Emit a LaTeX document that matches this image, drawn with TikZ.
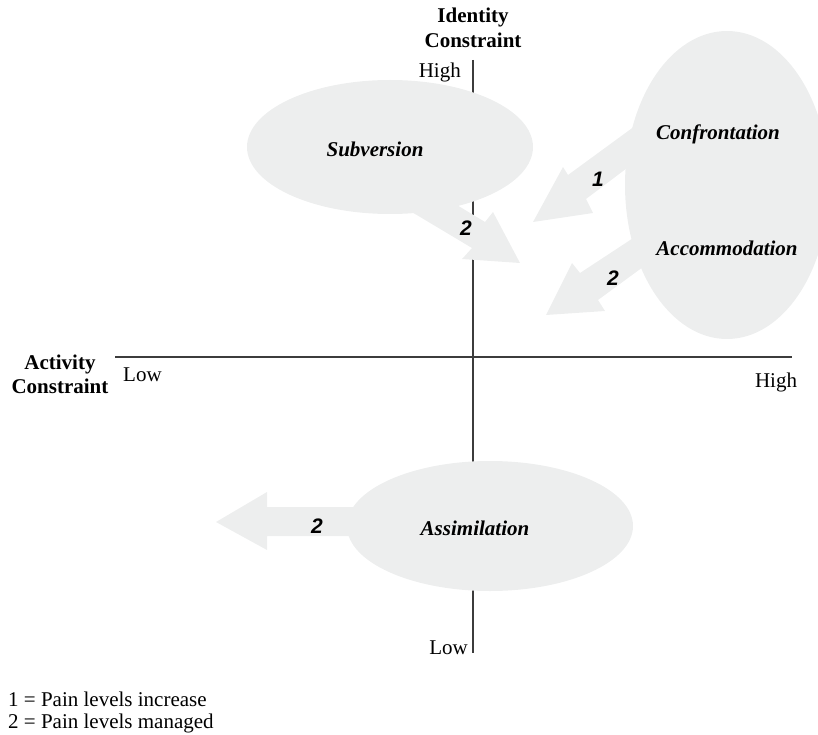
\documentclass[tikz,border=0pt]{standalone}
\usepackage{fontspec}
\setmainfont{Liberation Serif}
\newfontfamily\numfont{Liberation Sans}
\definecolor{blobgray}{RGB}{237,238,238}
\definecolor{axisgray}{RGB}{60,60,60}
\tikzset{
  axisline/.style={draw=axisgray, line width=1.2pt},
  blob/.style={fill=blobgray, draw=none},
  lbl/.style={font=\fontsize{21}{25}\selectfont\bfseries\itshape, inner sep=0pt, anchor=base},
  num/.style={font=\fontsize{21}{25}\selectfont\numfont\bfseries\itshape, inner sep=0pt, anchor=base},
  txt/.style={font=\fontsize{21}{25}\selectfont, inner sep=0pt, anchor=base},
  btxt/.style={font=\fontsize{21}{25}\selectfont\bfseries, inner sep=0pt, anchor=base},
}
\begin{document}
\begin{tikzpicture}[x=1pt,y=-1pt]
\useasboundingbox (0,0) rectangle (818,735);
\begin{scope}
\clip (0,0) rectangle (818,735);
% axes
\coordinate (vtop) at (473,60);
\coordinate (vbot) at (473,653);
\coordinate (hleft) at (115,357);
\coordinate (hright) at (792,357);
\draw[axisline] (vtop) -- (vbot);
\draw[axisline] (hleft) -- (hright);
% blobs
\fill[blob] (390,147) ellipse [x radius=143, y radius=67];
\fill[blob] (727,185) ellipse [x radius=102, y radius=154];
\fill[blob] (490,526) ellipse [x radius=143, y radius=65];
% arrow from Subversion
\fill[blob] (400,205) -- (472,248) -- (462,259) -- (520,263) -- (493,212) -- (485,222) -- (442,196) -- cycle;
% arrow 1 from Confrontation
\fill[blob] (650,115) -- (568,175) -- (563,167) -- (533,222) -- (593,213) -- (586,199) -- (643,156) -- cycle;
% arrow 2 from Accommodation
\fill[blob] (650,227) -- (580,273) -- (572,263) -- (546,315) -- (605,311) -- (598,300) -- (658,256) -- cycle;
% arrow from Assimilation
\fill[blob] (370,507) -- (267,507) -- (267,492) -- (216,522) -- (267,550) -- (267,536) -- (370,536) -- cycle;
\end{scope}
% texts
\node[btxt] (idA) at (473,23) {Identity};
\node[btxt] (idB) at (473,48) {Constraint};
\node[txt, anchor=base east] (hightop) at (461,78) {High};
\node[btxt] (acA) at (60,369) {Activity};
\node[btxt] (acB) at (60,393) {Constraint};
\node[txt, anchor=base west] (lowleft) at (123,381) {Low};
\node[txt] (highright) at (776,387) {High};
\node[txt, anchor=base east] (lowbot) at (468,654) {Low};
\node[lbl] (subv) at (375,157) {Subversion};
\node[lbl] (conf) at (718,140) {Confrontation};
\node[lbl] (accom) at (727,255) {Accommodation};
\node[lbl] (assim) at (475,535) {Assimilation};
\node[num] (n1) at (598,187) {1};
\node[num] (n2a) at (613,285) {2};
\node[num] (n2s) at (466,236) {2};
\node[num] (n2as) at (317,533) {2};
\node[txt, anchor=base west] (leg1) at (8,706) {1 = Pain levels increase};
\node[txt, anchor=base west] (leg2) at (8,728) {2 = Pain levels managed};
\end{tikzpicture}
\end{document}
